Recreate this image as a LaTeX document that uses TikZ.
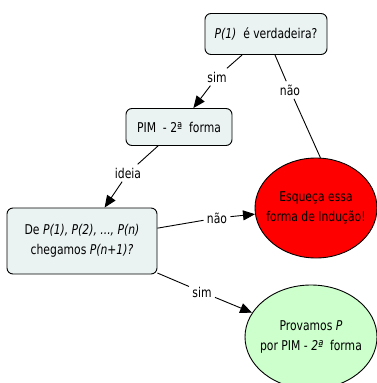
\documentclass[tikz,border=0pt]{standalone}
\usepackage{fontspec}
\setmainfont{DejaVu Sans Condensed}[FakeStretch=0.89]
\usetikzlibrary{positioning,shapes.geometric,arrows.meta}
\definecolor{conceptfill}{RGB}{234,242,242}
\definecolor{leafgreen}{RGB}{204,255,204}
\tikzset{x=1pt, y=1pt}
\tikzstyle{conc}=[draw=black, fill=conceptfill, rounded corners=6pt, line width=0.9pt, align=center, inner xsep=4pt, node font={\fontsize{13.5}{19.5}\selectfont}]
\tikzstyle{oval}=[ellipse, draw=black, line width=0.9pt, align=center, inner xsep=-20pt, inner ysep=-10pt, node font={\fontsize{13.5}{19.5}\selectfont}]
\tikzstyle{lnk}=[inner sep=3pt, node font={\fontsize{13.5}{15}\selectfont}]
\tikzstyle{arrow}=[-{Triangle[length=12pt,width=10pt]}]

\begin{document}
\begin{tikzpicture}[on grid, line width=0.9pt]
        \useasboundingbox (0,0) rectangle (377,-383);
        \node[conc, minimum width=122pt, minimum height=41pt] (p1) at (266,-34) {\textit{P(1)}\ \ é verdadeira?};
        \node[lnk] (sim1) [below left=43pt and 49pt of p1] {sim};
        \node[conc, minimum width=106pt, minimum height=37pt] (pim) [below left=50pt and 38pt of sim1] {PIM \ - 2ª \ forma};
        \node[lnk] (nao1) [below right=56pt and 24pt of p1] {não};
        \node[lnk] (ideia) [below left=46pt and 51pt of pim] {ideia};
        \node[conc, minimum width=150pt, minimum height=66pt] (de) [below left=68pt and 46pt of ideia] {De \textit{P(1), P(2), ..., P(n)}\\chegamos \textit{P(n+1)?}};
        \node[lnk] (nao2) [above right=23pt and 135pt of de] {não};
        \node[oval, fill=red, minimum width=122pt, minimum height=100pt] (esq) [above right=10pt and 99pt of nao2] {Esqueça essa\\forma de Indução!};
        \node[lnk] (sim2) [below right=51pt and 120pt of de] {sim};
        \node[oval, fill=leafgreen, minimum width=132pt, minimum height=104pt] (prov) [below right=45pt and 109pt of sim2] {Provamos \textit{P}\\por PIM - \textit{2ª}\ \ forma};
        \draw (p1) -- (sim1);
        \draw[arrow] (sim1) -- (pim);
        \draw (p1) -- (nao1) -- (esq.85);
        \draw (pim) -- (ideia);
        \draw[arrow] (ideia) -- (de);
        \draw (de) -- (nao2);
        \draw[arrow] (nao2) -- (esq);
        \draw (de) -- (sim2);
        \draw[arrow] (sim2) -- (prov);
\end{tikzpicture}
\end{document}
